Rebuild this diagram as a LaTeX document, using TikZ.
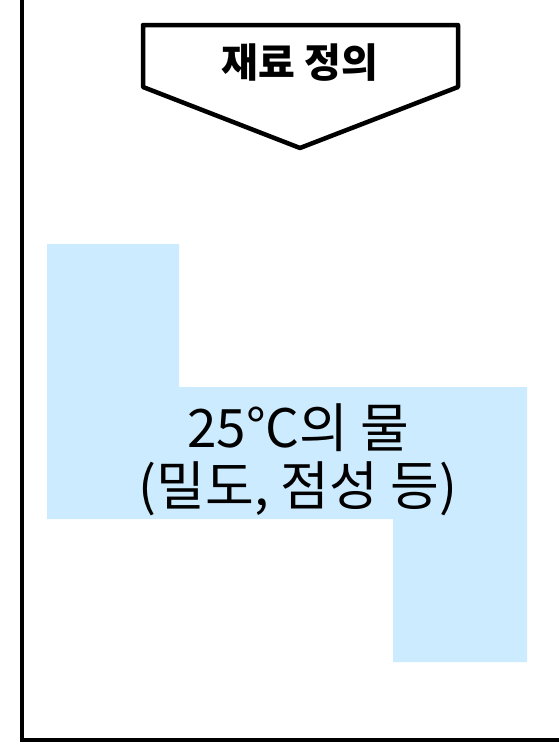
\documentclass[tikz,border=0pt]{standalone}
\usepackage{fontspec}
\setmainfont{Noto Sans CJK KR}
\definecolor{waterblue}{RGB}{204,235,254}

\begin{document}
\begin{tikzpicture}[x=1pt, y=-1pt,
        label/.style={font=\fontsize{53}{58}\selectfont, align=center, inner sep=0pt},
        title/.style={font=\fontsize{40}{44}\selectfont\bfseries, inner sep=0pt}]
        \useasboundingbox (0, 0) rectangle (558, 744);

        % Draw the frame
        \draw[line width=4.5pt] (22, -2) -- (22, 740) -- (600, 740);

        % Draw the title arrow
        \draw[line width=4.5pt, line join=round, fill=white] (143, 25) -- (458, 25) -- (458, 87) -- (300, 148) -- (143, 87) -- cycle;
        \node[title] (title) at (300, 63) {재료 정의};

        % Draw the material region
        \fill[waterblue] (47, 244) -- (179, 244) -- (179, 387) -- (527, 387) -- (527, 662)
                -- (393, 662) -- (393, 519) -- (47, 519) -- cycle;
        \node[label] (water) at (298, 460) {25°C의 물\\(밀도, 점성 등)};
    \end{tikzpicture}
\end{document}
